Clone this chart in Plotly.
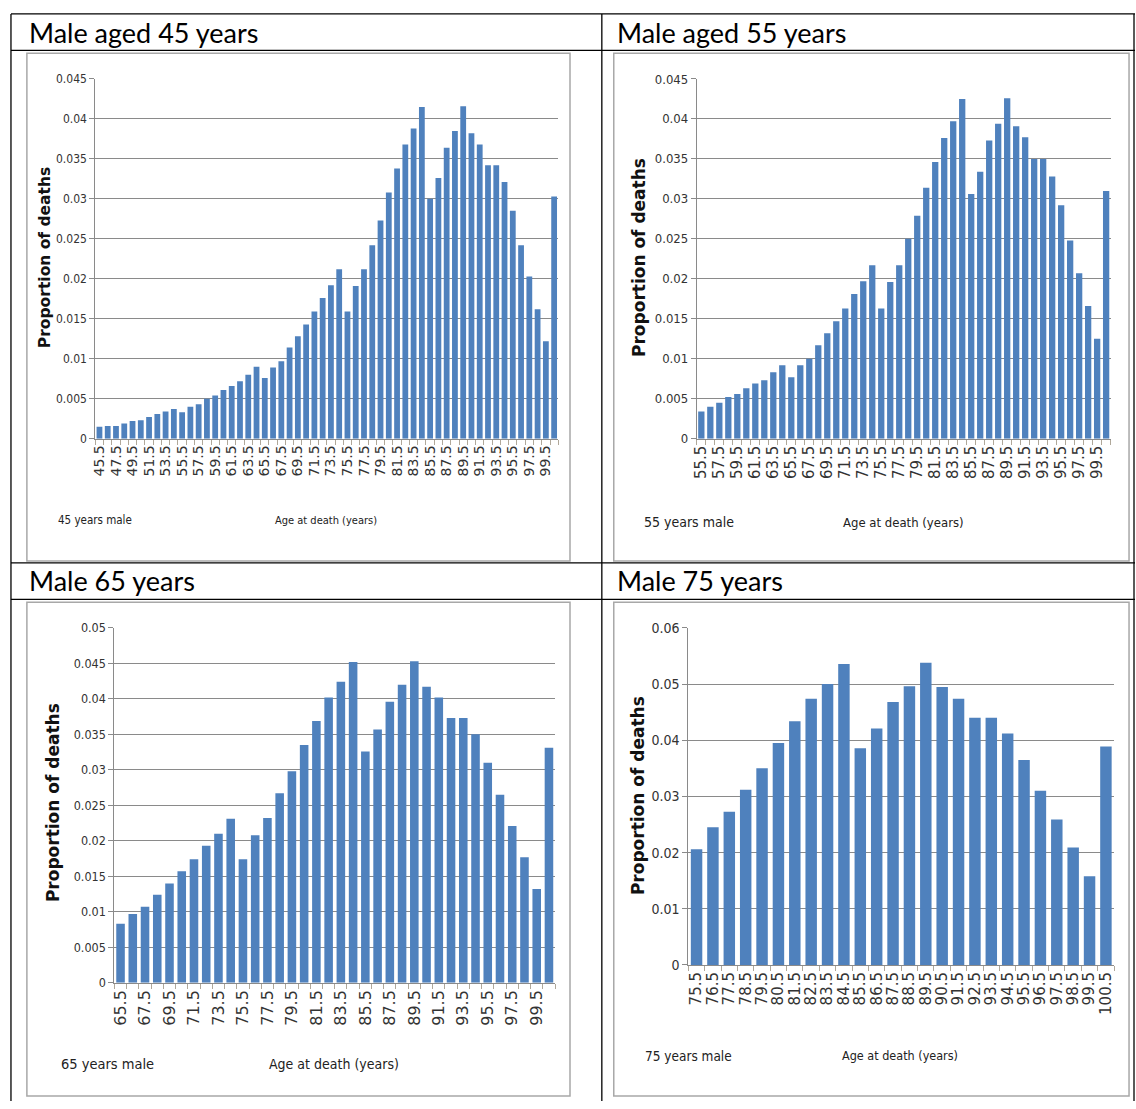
import plotly.graph_objects as go

W, H = 1136, 1109

# ---------------- data ----------------
ages_45 = [45.5, 46.5, 47.5, 48.5, 49.5, 50.5, 51.5, 52.5, 53.5, 54.5,
           55.5, 56.5, 57.5, 58.5, 59.5, 60.5, 61.5, 62.5, 63.5, 64.5,
           65.5, 66.5, 67.5, 68.5, 69.5, 70.5, 71.5, 72.5, 73.5, 74.5,
           75.5, 76.5, 77.5, 78.5, 79.5, 80.5, 81.5, 82.5, 83.5, 84.5,
           85.5, 86.5, 87.5, 88.5, 89.5, 90.5, 91.5, 92.5, 93.5, 94.5,
           95.5, 96.5, 97.5, 98.5, 99.5, 100.5]
ages_55 = ages_45[10:]
ages_65 = ages_45[20:]
ages_75 = ages_45[30:]

vals_45 = [0.0015, 0.0016, 0.0016, 0.0019, 0.0022, 0.0023, 0.0027, 0.0031, 0.0034, 0.0037,
           0.0033, 0.0040, 0.0043, 0.0050, 0.0054, 0.0061, 0.0066, 0.0072, 0.0080, 0.0090,
           0.0076, 0.0089, 0.0097, 0.0114, 0.0128, 0.0143, 0.0159, 0.0176, 0.0192, 0.0212,
           0.0159, 0.0191, 0.0212, 0.0242, 0.0273, 0.0308, 0.0338, 0.0368, 0.0388, 0.0415,
           0.0300, 0.0326, 0.0364, 0.0385, 0.0416, 0.0382, 0.0368, 0.0342, 0.0342, 0.0321,
           0.0285, 0.0242, 0.0203, 0.0162, 0.0122, 0.0303]
vals_55 = [0.0034, 0.0040, 0.0045, 0.0052, 0.0056, 0.0063, 0.0069, 0.0073, 0.0083, 0.0092,
           0.0077, 0.0092, 0.0100, 0.0117, 0.0132, 0.0147, 0.0163, 0.0181, 0.0197, 0.0217,
           0.0163, 0.0196, 0.0217, 0.0250, 0.0279, 0.0314, 0.0346, 0.0376, 0.0397, 0.0425,
           0.0306, 0.0334, 0.0373, 0.0394, 0.0426, 0.0391, 0.0377, 0.0350, 0.0350, 0.0328,
           0.0292, 0.0248, 0.0207, 0.0166, 0.0125, 0.0310]
vals_65 = [0.0083, 0.0097, 0.0107, 0.0124, 0.0140, 0.0157, 0.0174, 0.0193, 0.0210, 0.0231,
           0.0174, 0.0208, 0.0232, 0.0267, 0.0298, 0.0335, 0.0369, 0.0402, 0.0424, 0.0452,
           0.0326, 0.0357, 0.0396, 0.0420, 0.0453, 0.0417, 0.0402, 0.0373, 0.0373, 0.0350,
           0.0310, 0.0265, 0.0221, 0.0177, 0.0132, 0.0331]
vals_75 = [0.0206, 0.0245, 0.0273, 0.0312, 0.0350, 0.0395, 0.0434, 0.0474, 0.0500, 0.0536,
           0.0386, 0.0421, 0.0468, 0.0496, 0.0538, 0.0495, 0.0474, 0.0440, 0.0440, 0.0412,
           0.0365, 0.0310, 0.0259, 0.0209, 0.0158, 0.0389]

xlabels_45 = ["45.5", "47.5", "49.5", "51.5", "53.5", "55.5", "57.5", "59.5", "61.5", "63.5",
              "65.5", "67.5", "69.5", "71.5", "73.5", "75.5", "77.5", "79.5", "81.5", "83.5",
              "85.5", "87.5", "89.5", "91.5", "93.5", "95.5", "97.5", "99.5"]
xlabels_55 = xlabels_45[5:]
xlabels_65 = xlabels_45[10:]
xlabels_75 = ["75.5", "76.5", "77.5", "78.5", "79.5", "80.5", "81.5", "82.5", "83.5", "84.5",
              "85.5", "86.5", "87.5", "88.5", "89.5", "90.5", "91.5", "92.5", "93.5", "94.5",
              "95.5", "96.5", "97.5", "98.5", "99.5", "100.5"]

yticks_045 = [0, 0.005, 0.01, 0.015, 0.02, 0.025, 0.03, 0.035, 0.04, 0.045]
ylabels_045 = ["0", "0.005", "0.01", "0.015", "0.02", "0.025", "0.03", "0.035", "0.04", "0.045"]
yticks_05 = [0, 0.005, 0.01, 0.015, 0.02, 0.025, 0.03, 0.035, 0.04, 0.045, 0.05]
ylabels_05 = ["0", "0.005", "0.01", "0.015", "0.02", "0.025", "0.03", "0.035", "0.04", "0.045", "0.05"]
yticks_06 = [0, 0.01, 0.02, 0.03, 0.04, 0.05, 0.06]
ylabels_06 = ["0", "0.01", "0.02", "0.03", "0.04", "0.05", "0.06"]

cell_titles = ["Male aged 45 years", "Male aged 55 years", "Male 65 years", "Male 75 years"]
corner_notes = ["45 years male", "55 years male", "65 years male", "75 years male"]
x_title = "Age at death (years)"
y_title = "Proportion of deaths"

# ---------------- layout helpers ----------------
BAR = "#4F81BD"
GRID = "#8a8a8a"
FRAME = "#a8a8a8"
TICKC = "#333333"
NARROW = "DejaVu Sans Condensed, Liberation Sans Narrow, sans-serif"


def px(x):
    return x / W


def py(y):
    return 1 - y / H


panels = [
    dict(ages=ages_45, vals=vals_45, xl=xlabels_45, yt=yticks_045, yl=ylabels_045, ymax=0.045,
         xpx=(90.8, 556.2), ypx=(72, 437), xf=14, yf=12, yt_f=15.5, note_f=11.5, xt_f=11,
         note_xy=(90, 520), xt_xy=(323, 520), yt_xy=(41, 253)),
    dict(ages=ages_55, vals=vals_55, xl=xlabels_55, yt=yticks_045, yl=ylabels_045, ymax=0.045,
         xpx=(695.5, 1111.5), ypx=(72, 437), xf=15, yf=13, yt_f=17, note_f=14, xt_f=13,
         note_xy=(688, 522), xt_xy=(903, 522), yt_xy=(638, 253)),
    dict(ages=ages_65, vals=vals_65, xl=xlabels_65, yt=yticks_05, yl=ylabels_05, ymax=0.05,
         xpx=(110, 553), ypx=(629, 989), xf=16, yf=12.5, yt_f=17, note_f=14.5, xt_f=14,
         note_xy=(103, 1071), xt_xy=(331, 1071), yt_xy=(49, 806)),
    dict(ages=ages_75, vals=vals_75, xl=xlabels_75, yt=yticks_06, yl=ylabels_06, ymax=0.06,
         xpx=(687, 1115), ypx=(629, 971), xf=15, yf=14, yt_f=17, note_f=13.5, xt_f=12.5,
         note_xy=(687, 1063), xt_xy=(900, 1063), yt_xy=(637, 799)),
]

fig = go.Figure()
layout = dict(
    width=W, height=H, margin=dict(l=0, r=0, t=0, b=0, pad=0), autosize=False,
    paper_bgcolor="white", plot_bgcolor="white",
    showlegend=False, bargap=0.3,
)
annotations = []
shapes = []

for i, p in enumerate(panels, start=1):
    xa = "x" if i == 1 else f"x{i}"
    ya = "y" if i == 1 else f"y{i}"
    fig.add_trace(go.Bar(x=p["ages"], y=p["vals"], marker=dict(color=BAR, line=dict(width=0)),
                         xaxis=xa, yaxis=ya, hoverinfo="x+y"))
    lo, hi = p["ages"][0] - 0.5, p["ages"][-1] + 0.5
    label_vals = [float(s) for s in p["xl"]]
    boundaries = [a - 0.5 for a in p["ages"]] + [hi]
    layout["xaxis" if i == 1 else f"xaxis{i}"] = dict(
        domain=[px(p["xpx"][0]), px(p["xpx"][1])], anchor=ya, type="linear",
        range=[lo, hi], tickmode="array", tickvals=label_vals, ticktext=p["xl"],
        tickangle=-90, ticks="", showgrid=False, zeroline=False,
        showline=True, linecolor=GRID, linewidth=1,
        tickfont=dict(family="DejaVu Sans", size=p["xf"], color=TICKC),
        minor=dict(tickmode="array", tickvals=boundaries, ticks="outside", ticklen=5,
                   tickcolor="#b0a89a", tickwidth=1, showgrid=False),
        fixedrange=True,
    )
    layout["yaxis" if i == 1 else f"yaxis{i}"] = dict(
        domain=[py(p["ypx"][1]), py(p["ypx"][0])], anchor=xa,
        range=[0, p["ymax"]], tickmode="array", tickvals=p["yt"], ticktext=p["yl"],
        ticks="outside", ticklen=5, tickcolor=GRID,
        showgrid=True, gridcolor=GRID, gridwidth=1, zeroline=False,
        showline=True, linecolor=GRID, linewidth=1,
        tickfont=dict(family=NARROW, size=p["yf"], color=TICKC),
        fixedrange=True,
    )
    annotations.append(dict(x=px(p["yt_xy"][0]), y=py(p["yt_xy"][1]), xref="paper", yref="paper",
                            text=f"<b>{y_title}</b>", textangle=-90, showarrow=False,
                            xanchor="center", yanchor="middle",
                            font=dict(family="DejaVu Sans", size=p["yt_f"], color="#111111")))
    annotations.append(dict(x=px(p["note_xy"][0]), y=py(p["note_xy"][1]), xref="paper", yref="paper",
                            text=corner_notes[i - 1], showarrow=False,
                            xanchor="center", yanchor="middle",
                            font=dict(family=NARROW, size=p["note_f"], color="#222222")))
    annotations.append(dict(x=px(p["xt_xy"][0]), y=py(p["xt_xy"][1]), xref="paper", yref="paper",
                            text=x_title, showarrow=False,
                            xanchor="center", yanchor="middle",
                            font=dict(family=NARROW, size=p["xt_f"], color="#222222")))

# cell titles
title_pos = [(22, 25), (613, 25), (22, 581), (613, 581)]
for t, (tx, ty) in zip(cell_titles, title_pos):
    annotations.append(dict(x=px(tx), y=py(ty), xref="paper", yref="paper", text=t,
                            showarrow=False, xanchor="left", yanchor="middle",
                            font=dict(family="Lato, Open Sans, sans-serif", size=27, color="black")))

# chart frames
frames = [(22, 46, 568, 561), (612, 46, 1130, 561), (22, 603, 568, 1104), (612, 603, 1130, 1104)]
for (x0, y0, x1, y1) in frames:
    shapes.append(dict(type="rect", xref="paper", yref="paper", x0=px(x0), x1=px(x1),
                       y0=py(y1), y1=py(y0), line=dict(color=FRAME, width=1.5), layer="below"))

# table lines
for yy in (6, 43, 563, 600):
    shapes.append(dict(type="line", xref="paper", yref="paper", x0=px(6), x1=px(1136),
                       y0=py(yy), y1=py(yy), line=dict(color="black", width=1.3)))
for xx in (6, 600, 1135):
    shapes.append(dict(type="line", xref="paper", yref="paper", x0=px(xx), x1=px(xx),
                       y0=py(6), y1=py(1109), line=dict(color="black", width=1.3)))

layout["annotations"] = annotations
layout["shapes"] = shapes
fig.update_layout(**layout)

fig.write_html(
    "out.html",
    config={"displayModeBar": False, "staticPlot": True},
    post_script=(
        "document.documentElement.style.margin='0';document.body.style.margin='0';"
        "document.body.style.padding='0';document.body.style.overflow='hidden';"
        "var gd=document.getElementById('{plot_id}');"
        "gd.style.position='fixed';gd.style.left='0px';gd.style.top='0px';"
    ),
)
